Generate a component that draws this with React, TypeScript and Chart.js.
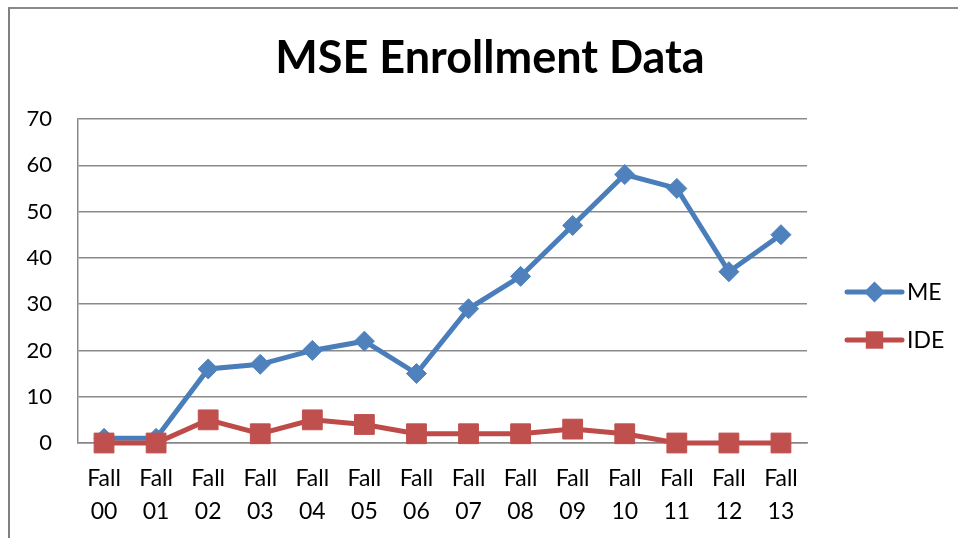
import React, { useEffect, useRef } from "react";
import { Chart, registerables } from "chart.js";

Chart.register(...registerables);

const chartTitle = "MSE Enrollment Data";
const categories = [
  "Fall 00", "Fall 01", "Fall 02", "Fall 03", "Fall 04", "Fall 05", "Fall 06",
  "Fall 07", "Fall 08", "Fall 09", "Fall 10", "Fall 11", "Fall 12", "Fall 13",
];
const seriesNames = ["ME", "IDE"];
const meValues = [1, 1, 16, 17, 20, 22, 15, 29, 36, 47, 58, 55, 37, 45];
const ideValues = [0, 0, 5, 2, 5, 4, 2, 2, 2, 3, 2, 0, 0, 0];
const yMin = 0;
const yMax = 70;
const yStep = 10;

const FONT = "Lato, 'Open Sans', 'DejaVu Sans', sans-serif";

const sideLegend = {
  id: "sideLegend",
  afterDraw(chart: any) {
    const ctx = chart.ctx as CanvasRenderingContext2D;
    const area = chart.chartArea;
    const x0 = area.right + 40;
    const lineLen = 55;
    const rowY = [292, 340];
    chart.data.datasets.forEach((ds: any, i: number) => {
      const y = rowY[i];
      ctx.save();
      ctx.strokeStyle = ds.borderColor;
      ctx.lineWidth = 5;
      ctx.lineCap = "round";
      ctx.beginPath();
      ctx.moveTo(x0, y);
      ctx.lineTo(x0 + lineLen, y);
      ctx.stroke();
      const cx = x0 + lineLen / 2;
      ctx.fillStyle = ds.pointBackgroundColor;
      ctx.beginPath();
      if (ds.pointStyle === "rectRot") {
        const r = 10.5;
        ctx.moveTo(cx, y - r);
        ctx.lineTo(cx + r, y);
        ctx.lineTo(cx, y + r);
        ctx.lineTo(cx - r, y);
        ctx.closePath();
      } else {
        const h = 8.7;
        ctx.rect(cx - h, y - h, 2 * h, 2 * h);
      }
      ctx.fill();
      ctx.fillStyle = "#000";
      ctx.font = `23px ${FONT}`;
      ctx.textAlign = "left";
      ctx.textBaseline = "middle";
      ctx.fillText(ds.label, x0 + lineLen + 5, y + 1);
      ctx.restore();
    });
  },
};

export default function App() {
  const canvasRef = useRef<HTMLCanvasElement | null>(null);

  useEffect(() => {
    if (!canvasRef.current) return;
    const chart = new Chart(canvasRef.current, {
      type: "line",
      data: {
        labels: categories.map((c) => c.split(" ")),
        datasets: [
          {
            label: seriesNames[0],
            data: meValues,
            borderColor: "#4A7EBB",
            backgroundColor: "#4F81BD",
            borderWidth: 5,
            pointStyle: "rectRot",
            pointRadius: 10,
            pointHoverRadius: 10,
            pointBackgroundColor: "#4F81BD",
            pointBorderColor: "#4F81BD",
            pointBorderWidth: 1,
            tension: 0,
            clip: false,
            order: 1,
          },
          {
            label: seriesNames[1],
            data: ideValues,
            borderColor: "#BE4B48",
            backgroundColor: "#C0504D",
            borderWidth: 5,
            pointStyle: "rect",
            pointRadius: 14,
            pointHoverRadius: 14,
            pointBackgroundColor: "#C0504D",
            pointBorderColor: "#C0504D",
            pointBorderWidth: 1,
            tension: 0,
            clip: false,
            order: 0,
          },
        ],
      },
      options: {
        animation: false,
        responsive: false,
        devicePixelRatio: 1,
        layout: { padding: { left: 22, right: 0, top: 0, bottom: 0 } },
        plugins: {
          legend: { display: false },
          tooltip: { enabled: false },
          title: {
            display: true,
            text: chartTitle,
            color: "#000",
            font: { family: FONT, size: 45, weight: "bold", lineHeight: 1.2 },
            padding: { top: 31, bottom: 34 },
          },
        },
        scales: {
          x: {
            type: "category",
            offset: true,
            grid: { display: false, drawTicks: false },
            border: { display: true, color: "#868686", width: 1.5 },
            ticks: {
              color: "#000",
              font: { family: FONT, size: 23, lineHeight: 1.435 },
              padding: 19,
              maxRotation: 0,
              autoSkip: false,
            },
            afterFit(s: any) {
              s.height = 95;
            },
          },
          y: {
            min: yMin,
            max: yMax,
            grid: { color: "#8a8a8a", lineWidth: 1.5, drawTicks: false },
            border: { display: true, color: "#8a8a8a", width: 1.5 },
            ticks: {
              stepSize: yStep,
              color: "#000",
              font: { family: FONT, size: 22 },
              padding: 26,
            },
            afterFit(s: any) {
              s.width = 56;
            },
          },
          yR: {
            position: "right",
            display: true,
            grid: { display: false, drawTicks: false },
            border: { display: false },
            ticks: { display: false },
            afterFit(s: any) {
              s.width = 151;
            },
          },
        },
      } as any,
      plugins: [sideLegend],
    });
    return () => chart.destroy();
  }, []);

  return (
    <div
      style={{
        position: "fixed",
        left: 0,
        top: 0,
        width: 958,
        height: 538,
        overflow: "hidden",
        background: "#fff",
      }}
    >
      <div
        style={{
          position: "absolute",
          left: 8,
          top: 7,
          width: 960,
          height: 600,
          borderTop: "2px solid #8a8a8a",
          borderLeft: "2px solid #808080",
        }}
      />
      <canvas
        ref={canvasRef}
        width={958}
        height={538}
        style={{ position: "absolute", left: 0, top: 0, width: 958, height: 538 }}
      />
    </div>
  );
}
